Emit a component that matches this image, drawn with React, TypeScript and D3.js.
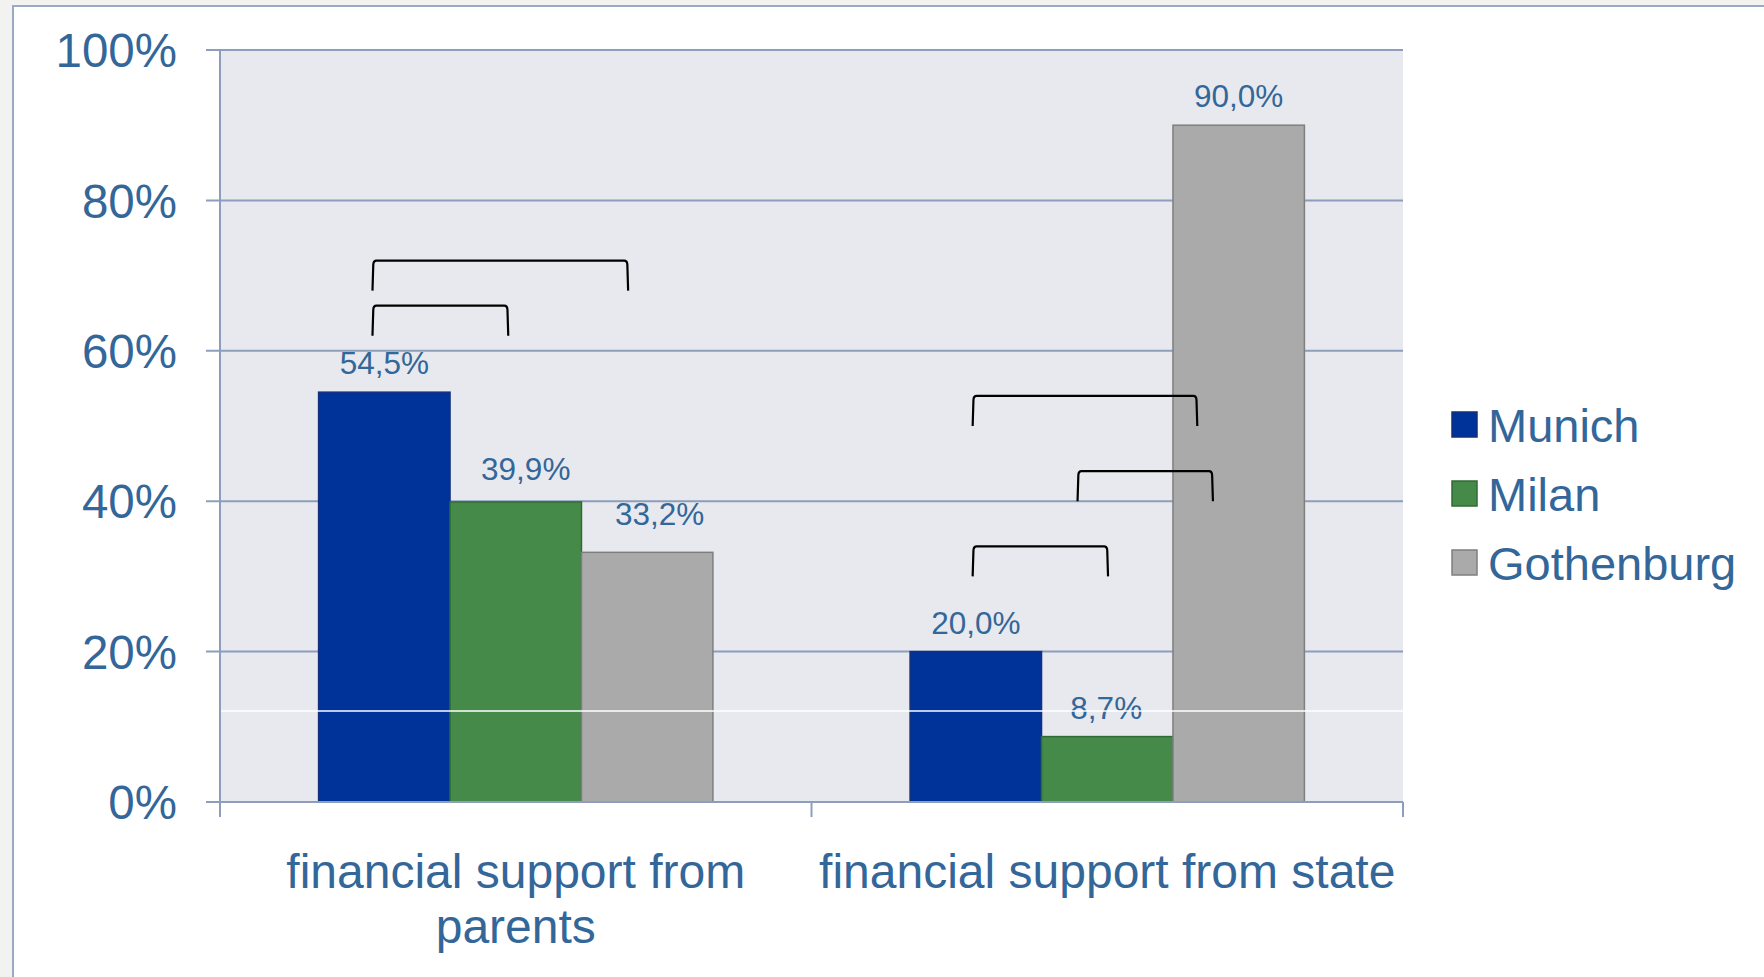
import * as d3 from 'd3'

// categories and series
const categories = ['parents', 'state']
const categoryLines = [
    ['financial support from', 'parents'],
    ['financial support from state'],
]
const seriesNames = ['Munich', 'Milan', 'Gothenburg']
const munich = [54.5, 20.0]
const milan = [39.9, 8.7]
const gothenburg = [33.2, 90.0]
const yTicks = [0, 20, 40, 60, 80, 100]

// significance brackets: category, from/to in bar units (0 = left edge of first bar), level in %
const bracketCat = ['parents', 'parents', 'state', 'state', 'state']
const bracketFrom = [0.41, 0.41, 0.476, 1.274, 0.476]
const bracketTo = [2.355, 1.443, 2.185, 2.304, 1.506]
const bracketLevel = [72, 66, 54, 44, 34]

const fills = ['#003399', '#468a4a', '#aaaaaa']
const strokes = ['#13307e', '#2f6b34', '#7f7f7f']
const textBlue = '#336699'
const gridColor = '#8c9ebb'
const font = "'Liberation Sans', Arial, sans-serif"

// hand placed value labels in the original: [dx, gap above bar] per series, per category
const labelNudge = [
    [[0, 18], [0, 18]],
    [[10, 22], [-1, 18]],
    [[12.5, 27], [0, 18]],
]

const App = () => {
    const W = 1764
    const H = 977
    const plot = { left: 220, right: 1403, top: 50, bottom: 802 }

    const x = d3
        .scaleBand()
        .domain(categories)
        .range([plot.left, plot.right])
        .paddingInner(0)
        .paddingOuter(0)

    const y = d3.scaleLinear().domain([0, 100]).range([plot.bottom, plot.top])

    const groupWidth = x.bandwidth() * (2 / 3)
    const barW = groupWidth / seriesNames.length
    const groupStart = (c: string) => (x(c) as number) + (x.bandwidth() - groupWidth) / 2

    const values = [munich, milan, gothenburg]

    const bars = seriesNames.flatMap((s, si) =>
        categories.map((c, ci) => {
            const v = values[si][ci]
            const bx = groupStart(c) + si * barW
            const [dx, gap] = labelNudge[si][ci]
            return (
                <g key={s + c}>
                    <rect
                        x={bx}
                        y={y(v)}
                        width={barW}
                        height={y(0) - y(v)}
                        fill={fills[si]}
                        stroke={strokes[si]}
                        strokeWidth={1.5}
                    />
                    <text
                        x={bx + barW / 2 + dx}
                        y={y(v) - gap}
                        textAnchor="middle"
                        fontSize={31.5}
                        fill={textBlue}
                        fontFamily={font}
                    >
                        {v.toFixed(1).replace('.', ',')}%
                    </text>
                </g>
            )
        })
    )

    const brackets = bracketCat.map((c, i) => {
        const u = d3.scaleLinear().domain([0, 1]).range([groupStart(c), groupStart(c) + barW])
        const x1 = u(bracketFrom[i])
        const x2 = u(bracketTo[i])
        const yt = y(bracketLevel[i])
        const yb = y(bracketLevel[i] - 4)
        const r = 4
        const d = `M${x1},${yb} L${x1 + 0.8},${yt + r} Q${x1 + 1},${yt} ${x1 + r},${yt} L${x2 - r},${yt} Q${x2 - 1},${yt} ${x2 - 0.8},${yt + r} L${x2},${yb}`
        return <path key={i} d={d} fill="none" stroke="#000" strokeWidth={2.2} />
    })

    return (
        <svg
            width={W}
            height={H}
            style={{ position: 'absolute', left: 0, top: 0, display: 'block' }}
        >
            <rect x={0} y={0} width={W} height={H} fill="#f2f2f0" />
            <rect x={13} y={6} width={W} height={H} fill="#ffffff" stroke="#9aaac4" strokeWidth={2} />

            <rect
                x={plot.left}
                y={plot.top}
                width={plot.right - plot.left}
                height={plot.bottom - plot.top}
                fill="#e8e9ee"
            />

            {yTicks.map(t => (
                <g key={t}>
                    <line x1={206} x2={plot.right} y1={y(t)} y2={y(t)} stroke={gridColor} strokeWidth={2} />
                    <text
                        x={177}
                        y={y(t)}
                        dy="0.36em"
                        textAnchor="end"
                        fontSize={47.5}
                        fill={textBlue}
                        fontFamily={font}
                    >
                        {t}%
                    </text>
                </g>
            ))}

            {bars}

            <line x1={plot.left} x2={plot.right} y1={y(12.1)} y2={y(12.1)} stroke="#ffffff" strokeWidth={1.5} />

            <line x1={plot.left} x2={plot.left} y1={plot.top} y2={plot.bottom + 15} stroke={gridColor} strokeWidth={2} />
            <line x1={206} x2={plot.right} y1={plot.bottom} y2={plot.bottom} stroke={gridColor} strokeWidth={2} />
            {[...categories.map(c => x(c) as number), plot.right].map((tx, i) => (
                <line key={i} x1={tx} x2={tx} y1={plot.bottom} y2={plot.bottom + 15} stroke={gridColor} strokeWidth={2} />
            ))}

            {brackets}

            {categories.map((c, ci) => (
                <text
                    key={c}
                    x={(x(c) as number) + x.bandwidth() / 2}
                    y={888}
                    textAnchor="middle"
                    fontSize={48}
                    fill={textBlue}
                    fontFamily={font}
                >
                    {categoryLines[ci].map((line, li) => (
                        <tspan key={li} x={(x(c) as number) + x.bandwidth() / 2} dy={li === 0 ? 0 : 55}>
                            {line}
                        </tspan>
                    ))}
                </text>
            ))}

            {seriesNames.map((s, si) => (
                <g key={s} transform={`translate(1452, ${412 + si * 69})`}>
                    <rect width={25} height={25} fill={fills[si]} stroke={strokes[si]} strokeWidth={1.5} />
                    <text x={36} y={29.5} fontSize={47} fill={textBlue} fontFamily={font}>
                        {s}
                    </text>
                </g>
            ))}
        </svg>
    )
}

export default App
